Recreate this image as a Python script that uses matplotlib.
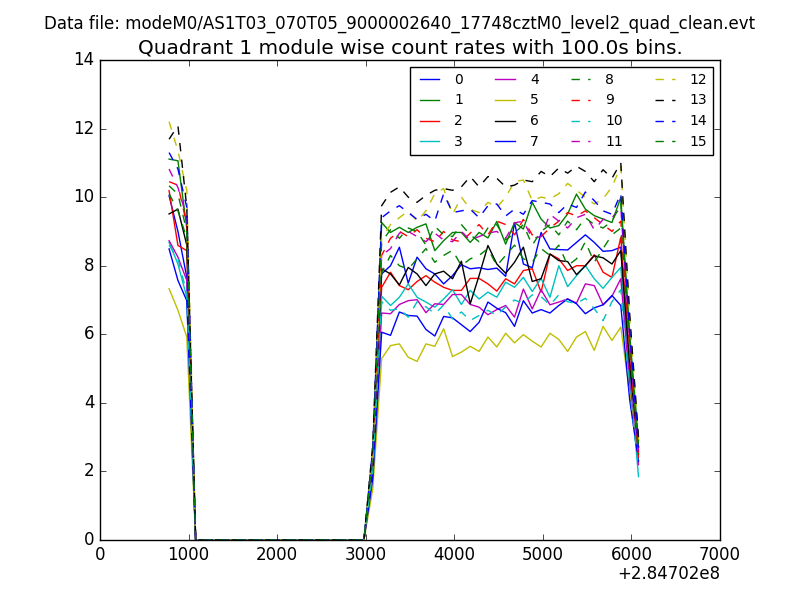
import numpy as np
import matplotlib
matplotlib.use('Agg')
import matplotlib.pyplot as plt
from matplotlib.ticker import ScalarFormatter

plt.style.use('classic')

# ======= Light curve settings =======
evt_file = 'modeM0/AS1T03_070T05_9000002640_17748cztM0_level2_quad_clean.evt'
quadrant = 1
bin_size = 100.0
offset_label = '+2.84702e8'   # time offset of the x axis
t_first = 780           # centre of first bin, relative to offset
n_gap = 20              # empty bins between the two orbits (1080 .. 2980)

# counts/s for first three bins of the first orbit
left = [
    [10.04, 9.00, 7.66], [11.11, 11.06, 9.10], [10.19, 8.59, 8.44], [8.68, 8.05, 7.08],
    [8.73, 8.25, 7.57], [7.33, 6.70, 5.92], [9.51, 9.65, 8.60], [8.49, 7.57, 6.98],
    [10.10, 9.60, 8.80], [10.45, 10.35, 9.20], [8.60, 8.20, 7.20], [10.82, 10.28, 9.41],
    [12.20, 11.35, 10.19], [11.69, 12.08, 9.70], [11.30, 10.82, 9.70], [10.33, 10.09, 9.00],
]

# partial bin at the start of the second orbit
ramp = [2.3, 2.6, 2.1, 2.0, 1.9, 1.5, 2.2, 1.8, 2.3, 2.4, 2.0, 2.4, 2.5, 2.8, 2.7, 2.5]

# full bins 3180 .. 5880
plateau = [
    [7.76, 8.00, 8.54, 7.49, 8.25, 7.91, 7.76, 7.47, 7.71, 8.03, 7.91, 7.94, 7.89, 7.93,
     7.69, 9.26, 8.05, 7.94, 8.97, 8.49, 8.47, 8.46, 8.68, 8.90, 8.68, 8.42, 8.44, 8.54],
    [9.26, 8.97, 9.12, 8.97, 9.12, 9.22, 8.44, 8.73, 8.97, 8.97, 8.68, 8.97, 8.81, 9.29,
     8.63, 9.26, 9.07, 9.85, 9.36, 9.10, 9.17, 9.51, 10.09, 9.65, 9.46, 9.36, 9.26, 9.99],
    [7.37, 7.81, 7.42, 7.30, 7.54, 7.71, 7.52, 7.37, 7.28, 7.28, 7.63, 7.63, 7.47, 7.26,
     7.62, 7.47, 7.86, 7.91, 7.23, 8.34, 8.20, 7.86, 8.00, 8.00, 8.32, 7.81, 7.66, 8.83],
    [7.11, 6.84, 7.08, 7.47, 7.08, 6.94, 6.79, 7.03, 7.30, 6.87, 7.28, 7.03, 7.23, 7.08,
     7.52, 7.37, 7.66, 7.25, 7.63, 7.08, 8.00, 7.39, 7.71, 8.00, 7.62, 7.34, 7.66, 7.95],
    [6.62, 6.60, 6.87, 6.98, 7.01, 6.63, 6.89, 6.87, 7.16, 7.16, 6.87, 6.79, 6.57, 6.72,
     6.84, 6.50, 7.32, 6.74, 7.30, 6.86, 6.94, 7.03, 6.91, 7.47, 7.42, 6.86, 7.11, 7.62],
    [5.29, 5.67, 5.72, 5.33, 5.21, 5.72, 5.65, 6.16, 5.35, 5.48, 5.65, 5.50, 5.92, 5.63,
     6.03, 5.75, 5.99, 5.80, 5.63, 6.03, 5.85, 5.50, 5.92, 6.08, 5.53, 6.23, 5.82, 6.21],
    [7.91, 7.76, 7.44, 7.95, 7.76, 7.42, 7.76, 7.84, 7.62, 8.13, 6.89, 7.71, 8.59, 8.05,
     7.78, 8.10, 8.54, 7.54, 7.62, 8.34, 8.15, 8.12, 7.74, 8.00, 8.29, 8.23, 8.05, 8.44],
    [6.06, 5.97, 6.65, 6.55, 6.53, 6.14, 5.95, 6.52, 6.48, 6.28, 6.08, 6.35, 6.94, 6.76,
     6.63, 6.23, 6.98, 6.62, 6.72, 6.62, 6.84, 7.03, 6.89, 6.60, 6.77, 6.86, 7.13, 6.84],
    [7.80, 8.30, 8.00, 7.90, 8.20, 8.50, 8.10, 8.30, 8.45, 8.00, 8.20, 8.30, 8.50, 8.00,
     8.30, 8.60, 8.20, 8.10, 8.50, 8.30, 8.60, 8.00, 8.20, 8.70, 8.10, 8.50, 8.90, 9.10],
    [8.30, 8.80, 9.00, 8.85, 9.05, 8.80, 8.70, 9.00, 8.75, 8.70, 8.95, 9.20, 8.90, 9.30,
     9.20, 8.90, 9.35, 8.90, 8.85, 9.10, 9.30, 9.55, 9.45, 9.60, 9.40, 9.20, 9.00, 9.30],
    [6.95, 6.70, 6.75, 6.50, 6.95, 6.80, 6.60, 6.85, 6.45, 6.65, 6.40, 6.55, 6.70, 6.55,
     6.80, 7.00, 6.90, 7.15, 7.10, 6.85, 7.15, 6.95, 6.90, 7.05, 6.75, 6.40, 6.95, 7.30],
    [8.30, 8.50, 8.95, 9.00, 8.85, 8.70, 8.95, 8.75, 8.70, 9.00, 8.75, 8.85, 8.95, 9.00,
     8.80, 9.25, 9.30, 8.80, 8.85, 9.50, 9.30, 9.10, 9.40, 9.50, 9.05, 9.35, 9.40, 9.70],
    [8.80, 9.20, 9.40, 9.60, 9.30, 9.60, 10.10, 10.25, 9.50, 10.00, 9.65, 9.55, 9.85, 9.70,
     10.00, 10.45, 10.50, 9.90, 10.00, 9.95, 10.10, 10.40, 10.20, 10.00, 9.80, 9.95, 10.30, 10.90],
    [9.75, 10.14, 10.30, 10.00, 9.85, 10.05, 10.20, 10.25, 10.20, 10.30, 10.60, 10.30, 10.60, 10.55,
     10.30, 10.35, 10.50, 10.45, 10.75, 10.60, 10.85, 10.70, 10.90, 10.75, 10.45, 10.80, 10.55, 11.00],
    [9.40, 9.60, 9.75, 9.55, 9.35, 9.50, 9.30, 10.10, 9.55, 9.60, 9.65, 9.40, 9.75, 9.80,
     9.45, 9.65, 9.50, 9.90, 9.85, 9.80, 9.55, 9.80, 9.70, 10.15, 9.90, 9.60, 9.50, 10.10],
    [8.70, 9.05, 8.80, 9.10, 9.00, 8.60, 9.15, 8.90, 8.85, 9.20, 8.90, 8.70, 9.10, 9.20,
     8.75, 8.95, 9.20, 8.60, 9.00, 9.20, 8.90, 9.30, 9.05, 9.40, 9.20, 9.10, 9.30, 9.80],
]

# last two (partial) bins 5980, 6080
tail = [
    [5.1, 2.6], [6.0, 2.9], [5.3, 2.5], [4.8, 1.85], [4.6, 2.2], [4.3, 2.3], [5.1, 2.7], [4.1, 2.3],
    [5.5, 2.8], [5.6, 2.4], [4.4, 2.1], [5.8, 2.6], [6.5, 2.9], [6.6, 3.0], [6.1, 2.7], [5.9, 2.5],
]

# ======= Plot =======
fig = plt.figure(figsize=(8, 6), dpi=100, facecolor='white')
ax = fig.add_subplot(111)

for m in range(16):
    rate = np.concatenate([left[m], np.zeros(n_gap), [ramp[m]], plateau[m], tail[m]])
    times = t_first + bin_size * np.arange(len(rate))
    ls = '-' if m < 8 else '--'
    ax.plot(times, rate, ls, label=str(m))

ax.set_xlim(0, 7000)
ax.set_ylim(0, 14)
fmt = ScalarFormatter(useOffset=False)
ax.xaxis.set_major_formatter(fmt)
# offset label as matplotlib 1.x printed it
ax.text(1.0, -0.052, offset_label, transform=ax.transAxes, ha='right', va='top',
        fontsize=12)

ax.set_title('Quadrant %d module wise count rates with %.1fs bins.' % (quadrant, bin_size),
             fontsize=14.4)
fig.suptitle('Data file: ' + evt_file, fontsize=12, y=0.975)
ax.legend(loc='upper right', ncol=4, fontsize=10, borderaxespad=0.5)

fig.savefig('out.png', dpi=100, facecolor='white')
